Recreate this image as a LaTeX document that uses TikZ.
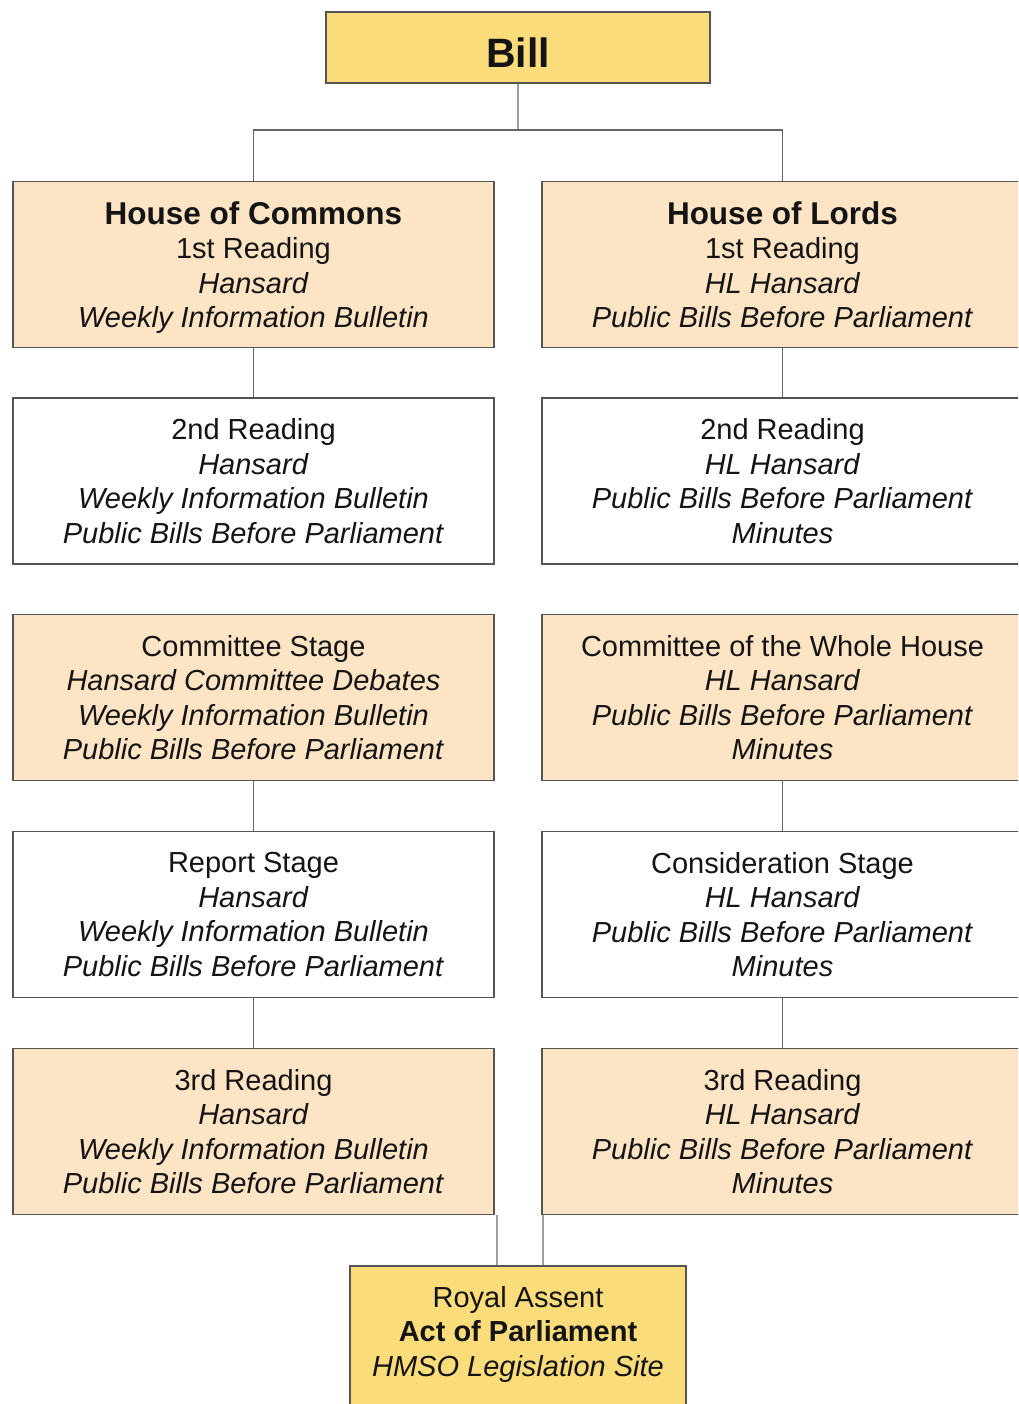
\documentclass[tikz,border=0pt]{standalone}
\usepackage{fontspec}
\setmainfont{Liberation Sans}
\usetikzlibrary{calc}
\definecolor{billyellow}{RGB}{250,220,122}
\definecolor{peach}{RGB}{253,228,196}
\definecolor{boxline}{RGB}{85,85,85}
\definecolor{connline}{RGB}{100,100,100}
\definecolor{lightconn}{RGB}{160,160,160}
\definecolor{txt}{RGB}{20,20,20}
\tikzset{
  stagebox/.style={draw=boxline, line width=1.5pt, minimum width=481pt, minimum height=166pt,
    inner sep=0pt, align=center, text=txt, font=\fontsize{29}{34.5}\selectfont},
  peachbox/.style={stagebox, fill=peach},
  whitebox/.style={stagebox, fill=white},
  conn/.style={draw=connline, line width=1.5pt},
  lconn/.style={draw=lightconn, line width=1.5pt}
}
\newcommand{\hd}[1]{{\fontsize{31.5}{34.5}\selectfont\bfseries #1}}
\begin{document}
\begin{tikzpicture}[x=1pt,y=-1pt]
\useasboundingbox (0,0) rectangle (1018,1404);
\clip (0,0) rectangle (1018,1404);
\fill[white] (0,0) rectangle (1018,1404);

% Bill
\node[draw=boxline, line width=1.5pt, fill=billyellow, minimum width=384pt, minimum height=71pt,
  inner sep=0pt, text height=40.5pt, text depth=0pt, text=txt, font=\fontsize{41}{41}\selectfont\bfseries] (bill) at (518,47.5) {\smash{Bill}};

% left column
\node[peachbox] (hoc1) at (253.5,264.5) {\hd{House of Commons}\\1st Reading\\\textit{Hansard}\\\smash{\textit{Weekly Information Bulletin}}};
\node[whitebox] (hoc2) at (253.5,481) {2nd Reading\\\textit{Hansard}\\\textit{Weekly Information Bulletin}\\\textit{Public Bills Before Parliament}};
\node[peachbox] (hoc3) at (253.5,697.5) {Committee Stage\\\textit{Hansard Committee Debates}\\\textit{Weekly Information Bulletin}\\\textit{Public Bills Before Parliament}};
\node[whitebox] (hoc4) at (253.5,914.5) {Report Stage\\\textit{Hansard}\\\textit{Weekly Information Bulletin}\\\textit{Public Bills Before Parliament}};
\node[peachbox] (hoc5) at (253.5,1131.5) {3rd Reading\\\textit{Hansard}\\\textit{Weekly Information Bulletin}\\\textit{Public Bills Before Parliament}};

% right column
\node[peachbox] (hol1) at (782.5,264.5) {\hd{House of Lords}\\1st Reading\\\textit{HL Hansard}\\\textit{Public Bills Before Parliament}};
\node[whitebox] (hol2) at (782.5,481) {2nd Reading\\\textit{HL Hansard}\\\textit{Public Bills Before Parliament}\\\textit{Minutes}};
\node[peachbox] (hol3) at (782.5,697.5) {Committee of the Whole House\\\textit{HL Hansard}\\\textit{Public Bills Before Parliament}\\\textit{Minutes}};
\node[whitebox] (hol4) at (782.5,914.5) {Consideration Stage\\\textit{HL Hansard}\\\textit{Public Bills Before Parliament}\\\textit{Minutes}};
\node[peachbox] (hol5) at (782.5,1131.5) {3rd Reading\\\textit{HL Hansard}\\\textit{Public Bills Before Parliament}\\\textit{Minutes}};

% Royal Assent
\node[draw=boxline, line width=1.5pt, fill=billyellow, minimum width=336pt, minimum height=170pt,
  inner sep=0pt, anchor=north] (royal) at (518,1265) {};
\node[align=center, text=txt, font=\fontsize{29}{34.5}\selectfont, anchor=north, inner sep=0pt] (royaltext) at (518,1286)
  {Royal Assent\\\textbf{Act of Parliament}\\\textit{HMSO Legislation Site}};

% connectors
\coordinate (split) at (518,130);
\draw[lconn] (bill.south) -- (split);
\draw[conn] (split) -| (hoc1.north);
\draw[conn] (split) -| (hol1.north);
\draw[conn] (hoc1.south) -- (hoc2.north);
\draw[conn] (hol1.south) -- (hol2.north);
\draw[conn] (hoc3.south) -- (hoc4.north);
\draw[conn] (hol3.south) -- (hol4.north);
\draw[conn] (hoc4.south) -- (hoc5.north);
\draw[conn] (hol4.south) -- (hol5.north);
\coordinate (la) at ([xshift=2pt]hoc5.south east);
\coordinate (ra) at ([xshift=1.5pt]hol5.south west);
\draw[lconn] (la) -- (la |- royal.north);
\draw[lconn] (ra) -- (ra |- royal.north);
\end{tikzpicture}
\end{document}
